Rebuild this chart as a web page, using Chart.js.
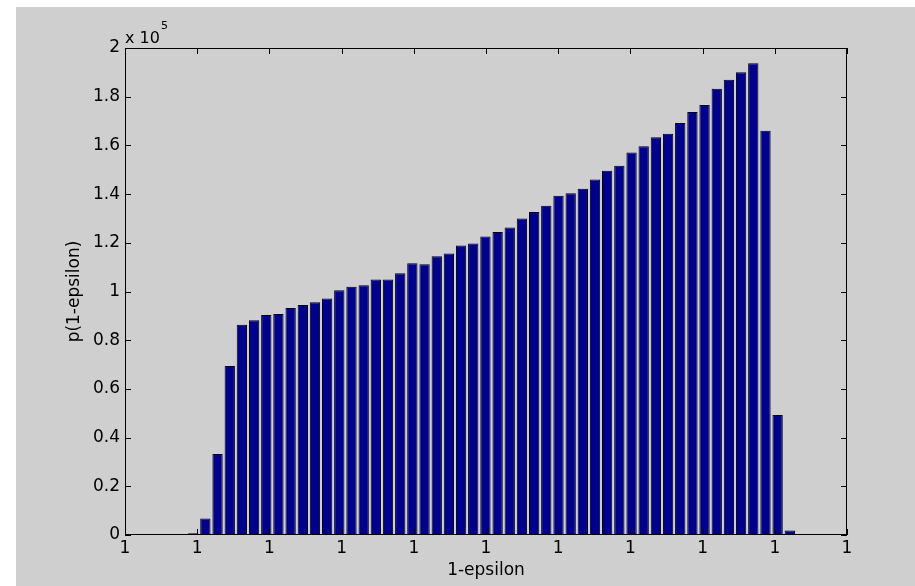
<!DOCTYPE html>
<html>
<head>
<meta charset="utf-8">
<script src="https://cdn.jsdelivr.net/npm/chart.js@4.4.1/dist/chart.umd.min.js"></script>
<style>
    html, body { margin: 0; padding: 0; background: #fff; }
    #frame { position: absolute; left: 16px; top: 7px; width: 899px; height: 579px; background: #cfcfcf; }
    #chart { display: block; }
</style>
</head>
<body>
<div id="frame"><canvas id="chart" width="899" height="579"></canvas></div>
<script>
// bin centres (x axis runs 0..10 between the first and last tick)
const binCenters = [
    0.945, 1.113, 1.282, 1.451, 1.619, 1.788, 1.957, 2.125, 2.294, 2.463,
    2.631, 2.800, 2.968, 3.137, 3.306, 3.474, 3.643, 3.812, 3.980, 4.149,
    4.318, 4.486, 4.655, 4.823, 4.992, 5.161, 5.329, 5.498, 5.667, 5.835,
    6.004, 6.173, 6.341, 6.510, 6.678, 6.847, 7.016, 7.184, 7.353, 7.522,
    7.690, 7.859, 8.027, 8.196, 8.365, 8.533, 8.702, 8.871, 9.039, 9.208
];

// counts per bin
const counts = [
    700, 6800, 33300, 69400, 86300, 88200, 90400, 90800, 93200, 94500,
    95600, 97100, 100500, 101900, 102600, 104900, 104900, 107500, 111600, 111200,
    114500, 115600, 118900, 119700, 122600, 124400, 126300, 130000, 132600, 135200,
    139300, 140400, 142200, 146000, 149600, 151600, 157100, 159600, 163300, 164800,
    169200, 173700, 176600, 183300, 187000, 190000, 193700, 166000, 49300, 1800
];

const xTickLabels = ['1', '1', '1', '1', '1', '1', '1', '1', '1', '1', '1'];
const yTickLabels = ['0', '0.2', '0.4', '0.6', '0.8', '1', '1.2', '1.4', '1.6', '1.8', '2'];

const labelFont = { family: 'DejaVu Sans', size: 17 };

// MATLAB style box with ticks pointing inwards, plus the x 10^5 multiplier
const matlabAxes = {
    id: 'matlabAxes',
    afterDraw(chart) {
        const ctx = chart.ctx;
        const area = chart.chartArea;
        const xs = chart.scales.x;
        const ys = chart.scales.y;
        const len = 6;

        ctx.save();
        ctx.strokeStyle = '#000';
        ctx.lineWidth = 1;
        ctx.strokeRect(area.left + 0.5, area.top + 0.5, area.right - area.left - 1, area.bottom - area.top - 1);

        ctx.beginPath();
        xs.ticks.forEach(t => {
            const px = Math.round(xs.getPixelForValue(t.value)) + 0.5;
            ctx.moveTo(px, area.bottom);
            ctx.lineTo(px, area.bottom - len);
            ctx.moveTo(px, area.top);
            ctx.lineTo(px, area.top + len);
        });
        ys.ticks.forEach(t => {
            const py = Math.round(ys.getPixelForValue(t.value)) + 0.5;
            ctx.moveTo(area.left, py);
            ctx.lineTo(area.left + len, py);
            ctx.moveTo(area.right, py);
            ctx.lineTo(area.right - len, py);
        });
        ctx.stroke();

        ctx.fillStyle = '#000';
        ctx.textBaseline = 'alphabetic';
        ctx.textAlign = 'left';
        ctx.font = '16px "DejaVu Sans"';
        ctx.fillText('x 10', area.left, area.top - 5);
        const w = ctx.measureText('x 10').width;
        ctx.font = '11px "DejaVu Sans"';
        ctx.fillText('5', area.left + w + 1, area.top - 19);
        ctx.restore();
    }
};

new Chart(document.getElementById('chart'), {
    type: 'bar',
    data: {
        datasets: [{
            data: binCenters.map((x, i) => ({ x: x, y: counts[i] })),
            backgroundColor: '#00008f',
            borderColor: '#000',
            borderWidth: 1,
            borderSkipped: false,
            barPercentage: 0.85,
            categoryPercentage: 1
        }]
    },
    options: {
        responsive: false,
        animation: false,
        layout: { padding: { top: 41, right: 68, bottom: 0, left: 0 } },
        plugins: { legend: { display: false }, tooltip: { enabled: false } },
        scales: {
            x: {
                type: 'linear',
                min: 0,
                max: 10,
                offset: false,
                grid: { display: false, drawTicks: false },
                border: { display: false },
                ticks: {
                    stepSize: 1,
                    autoSkip: false,
                    maxRotation: 0,
                    padding: 3,
                    color: '#000',
                    font: labelFont,
                    callback: (v, i) => xTickLabels[i]
                },
                title: { display: true, text: '1-epsilon', color: '#000', font: labelFont, padding: 5 },
                afterFit: scale => { scale.height = 51; }
            },
            y: {
                min: 0,
                max: 200000,
                grid: { display: false, drawTicks: false },
                border: { display: false },
                ticks: {
                    stepSize: 20000,
                    padding: 5,
                    color: '#000',
                    font: labelFont,
                    callback: (v, i) => yTickLabels[i]
                },
                title: { display: true, text: 'p(1-epsilon)', color: '#000', font: labelFont, padding: 48 },
                afterFit: scale => { scale.width = 109; }
            }
        }
    },
    plugins: [matlabAxes]
});
</script>
</body>
</html>
